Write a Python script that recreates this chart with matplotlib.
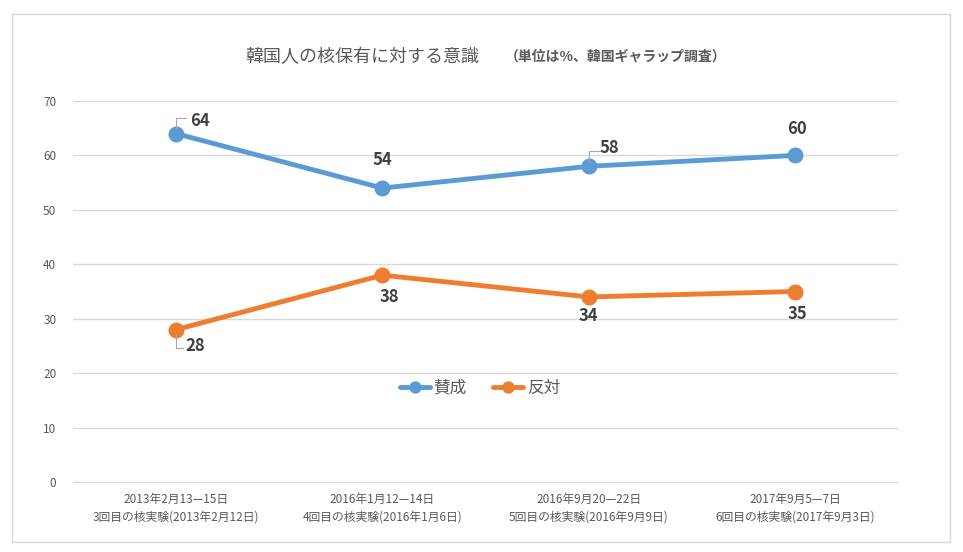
import matplotlib
matplotlib.use('Agg')
import matplotlib.pyplot as plt
from matplotlib.patches import Rectangle

plt.rcParams['font.family'] = ['Noto Sans CJK JP', 'DejaVu Sans']

categories = ['2013年2月13—15日\n3回目の核実験(2013年2月12日)',
              '2016年1月12—14日\n4回目の核実験(2016年1月6日)',
              '2016年9月20—22日\n5回目の核実験(2016年9月9日)',
              '2017年9月5—7日\n6回目の核実験(2017年9月3日)']
sansei = [64, 54, 58, 60]
hantai = [28, 38, 34, 35]
blue = '#5b9bd5'
orange = '#ed7d31'

fig = plt.figure(figsize=(9.63, 5.52), dpi=100)
fig.patches.append(Rectangle((12/963, 1-542/552), 938/963, 528/552, transform=fig.transFigure,
                             fill=False, edgecolor='#d9d9d9', linewidth=1))
ax = fig.add_axes([73/963, 1-482/552, 825/963, 381/552])

x = range(len(categories))
ax.plot(x, sansei, color=blue, lw=3.5, marker='o', ms=10.5, label='賛成', solid_capstyle='round')
ax.plot(x, hantai, color=orange, lw=3.5, marker='o', ms=10.5, label='反対', solid_capstyle='round')

ax.set_xlim(-0.5, 3.5)
ax.set_ylim(0, 70)
ax.set_yticks(range(0, 71, 10))
ax.set_xticks(list(x))
ax.set_xticklabels(categories, fontsize=8.5, color='#404040', linespacing=1.4)
ax.tick_params(axis='both', length=0, colors='#595959', labelsize=8.5)
ax.tick_params(axis='y', pad=12)
ax.tick_params(axis='x', pad=8)
ax.grid(axis='y', color='#d9d9d9', lw=1)
ax.set_axisbelow(True)
for s in ax.spines.values():
    s.set_visible(False)
ax.spines['bottom'].set_visible(True)
ax.spines['bottom'].set_color('#d9d9d9')

lab = dict(fontsize=12, fontweight='bold', color='#404040', ha='center', va='center')
# label offsets in points
offs_s = [(17, 9), (0, 20), (15, 13), (1.5, 19)]
offs_h = [(14, -12), (5, -16), (0, -14), (1.5, -16.5)]
for i, (v, o) in enumerate(zip(sansei, offs_s)):
    ax.annotate(str(v), (i, v), xytext=o, textcoords='offset points', **lab)
for i, (v, o) in enumerate(zip(hantai, offs_h)):
    ax.annotate(str(v), (i, v), xytext=o, textcoords='offset points', **lab)
# leader lines
leaders = [(0, sansei[0], (7, 11)), (2, sansei[2], (8, 11)), (0, hantai[0], (5, -13))]
for i, v, end in leaders:
    ax.annotate('', (i, v), xytext=end, textcoords='offset points',
                arrowprops=dict(arrowstyle='-', color='#a6a6a6', lw=0.8, shrinkA=0, shrinkB=3,
                                connectionstyle='angle,angleA=0,angleB=90,rad=0'))

ax.legend(loc='center', bbox_to_anchor=(480/963, 1-388/552), bbox_transform=fig.transFigure,
          ncol=2, frameon=False, fontsize=12, handlelength=1.8, columnspacing=1.6,
          handletextpad=0.2, markerscale=0.75, labelcolor='#595959')

fig.text(245/963, 1-57/552, '韓国人の核保有に対する意識', fontsize=13, color='#595959', va='center')
fig.text(505/963, 1-57/552, '（単位は%、韓国ギャラップ調査）', fontsize=10, color='#595959',
         va='center', fontweight='bold')

fig.savefig('out.png', dpi=100)
